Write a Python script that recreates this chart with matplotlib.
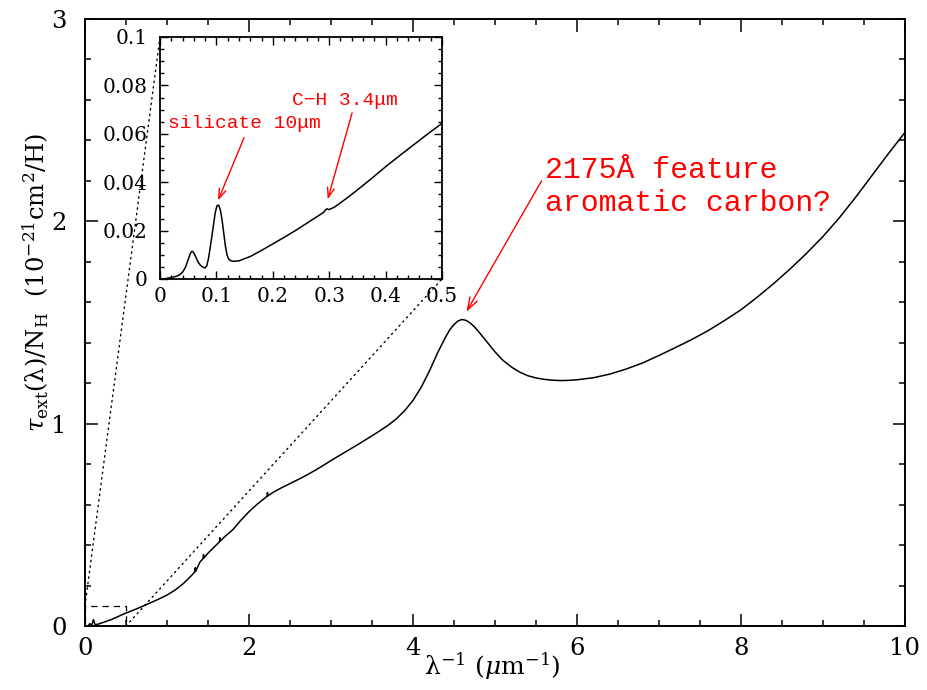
import matplotlib
matplotlib.use("Agg")
import matplotlib.pyplot as plt
from matplotlib.patches import Rectangle, ConnectionPatch
from matplotlib.ticker import MultipleLocator

plt.rcParams["font.family"] = ["DejaVu Serif"]
plt.rcParams["mathtext.fontset"] = "dejavuserif"

# extinction curve (x in 1/micron, y in 1e-21 cm^2/H)
inv_wave = [0.0, 0.01, 0.02, 0.03, 0.035, 0.04, 0.045, 0.05, 0.054, 0.057,
            0.06, 0.064, 0.068, 0.072, 0.076, 0.08, 0.083, 0.086, 0.09, 0.094,
            0.098, 0.101, 0.104, 0.107, 0.11, 0.113, 0.116, 0.119, 0.122, 0.126,
            0.13, 0.14, 0.16, 0.18, 0.2, 0.22, 0.24, 0.26, 0.28, 0.29,
            0.293, 0.296, 0.299, 0.302, 0.31, 0.33, 0.35, 0.375, 0.4, 0.425,
            0.45, 0.475, 0.5, 0.6, 0.7, 0.8, 0.9, 1.0, 1.1, 1.2,
            1.3, 1.34, 1.345, 1.35, 1.4, 1.44, 1.445, 1.45, 1.5, 1.6,
            1.64, 1.645, 1.65, 1.7, 1.8, 1.9, 2.0, 2.1, 2.2, 2.22,
            2.225, 2.23, 2.3, 2.4, 2.5, 2.6, 2.7, 2.8, 2.9, 3.0, 3.1,
            3.2, 3.3, 3.4, 3.5, 3.6, 3.7, 3.8, 3.9, 4.0, 4.1,
            4.2, 4.3, 4.4, 4.45, 4.5, 4.55, 4.6, 4.65, 4.7, 4.75,
            4.8, 4.85, 4.9, 4.95, 5.0, 5.05, 5.1, 5.2, 5.3, 5.4,
            5.5, 5.6, 5.7, 5.8, 5.9, 6.0, 6.2, 6.4, 6.6, 6.8,
            7.0, 7.2, 7.4, 7.6, 7.8, 8.0, 8.2, 8.4, 8.6, 8.8,
            9.0, 9.2, 9.4, 9.6, 9.8, 10.0]
tau = [0.0, 0.0002, 0.0006, 0.0012, 0.0018, 0.0028, 0.0048, 0.008, 0.0107, 0.0115,
       0.0108, 0.0088, 0.0068, 0.0056, 0.0049, 0.0046, 0.0055, 0.0085, 0.0145, 0.021,
       0.0275, 0.0303, 0.0305, 0.0285, 0.0245, 0.019, 0.0135, 0.0098, 0.0082, 0.0075,
       0.0073, 0.0075, 0.0093, 0.0118, 0.0145, 0.0172, 0.02, 0.023, 0.026, 0.0275,
       0.0284, 0.029, 0.0287, 0.0289, 0.0298, 0.0332, 0.0368, 0.0415, 0.0464, 0.051,
       0.0555, 0.06, 0.0643, 0.08, 0.097, 0.115, 0.133, 0.153, 0.178, 0.21,
       0.25, 0.268, 0.288, 0.27, 0.315, 0.333, 0.353, 0.336, 0.36, 0.40,
       0.416, 0.436, 0.42, 0.44, 0.475, 0.522, 0.565, 0.602, 0.635, 0.641,
       0.66, 0.643, 0.662, 0.684, 0.704, 0.724, 0.745, 0.768, 0.792, 0.818, 0.842,
       0.866, 0.89, 0.915, 0.94, 0.966, 0.993, 1.025, 1.065, 1.115, 1.18,
       1.26, 1.35, 1.43, 1.465, 1.49, 1.508, 1.515, 1.51, 1.497, 1.478,
       1.455, 1.43, 1.405, 1.38, 1.355, 1.333, 1.312, 1.28, 1.255, 1.237,
       1.226, 1.219, 1.215, 1.213, 1.214, 1.217, 1.227, 1.245, 1.27, 1.3,
       1.337, 1.376, 1.416, 1.46, 1.51, 1.563, 1.626, 1.693, 1.765, 1.842,
       1.925, 2.018, 2.12, 2.228, 2.336, 2.44]

main_xticks = [0, 2, 4, 6, 8, 10]
main_yticks = [0, 1, 2, 3]
inset_xticks = [0, 0.1, 0.2, 0.3, 0.4, 0.5]
inset_xlabels = ["0", "0.1", "0.2", "0.3", "0.4", "0.5"]
inset_yticks = [0, 0.02, 0.04, 0.06, 0.08, 0.1]
inset_ylabels = ["0", "0.02", "0.04", "0.06", "0.08", "0.1"]

fig = plt.figure(figsize=(9.28, 6.9), dpi=100)
W, H = 928, 690

# main panel
ax = fig.add_axes([85 / W, 1 - 626 / H, 820 / W, 607 / H])
ax.plot(inv_wave, tau, color="black", lw=1.1)
ax.set_xlim(0, 10)
ax.set_ylim(0, 3)
ax.set_xticks(main_xticks)
ax.set_xticklabels([str(t) for t in main_xticks])
ax.set_yticks(main_yticks)
ax.set_yticklabels([str(t) for t in main_yticks])
ax.xaxis.set_minor_locator(MultipleLocator(0.5))
ax.yaxis.set_minor_locator(MultipleLocator(0.2))
ax.tick_params(which="both", direction="in", top=True, right=True, width=1.1)
ax.tick_params(which="major", length=9, labelsize=17.5)
ax.tick_params(which="minor", length=4.5)
ax.tick_params(axis="x", which="major", pad=8)
ax.tick_params(axis="y", which="major", pad=13)
for sp in ax.spines.values():
    sp.set_linewidth(1.4)

# zoom box
ax.add_patch(Rectangle((0, 0), 0.5, 0.1, fill=False, ls=(0, (5, 4)), lw=0.9, color="black"))

fig.text(492 / W, 1 - 675 / H, "λ$^{-1}$ ($\\mu$m$^{-1}$)", ha="center",
         va="baseline", fontsize=18)
fig.text(36 / W, 1 - 282 / H,
         "$\\tau_{\\rm ext}$(λ)/N$_{\\rm H}$  (10$^{-21}$cm$^2$/H)",
         rotation=90, ha="center", va="center", fontsize=17.5)

ax.annotate("", xy=(4.634, 1.541), xytext=(5.585, 2.212),
            arrowprops=dict(arrowstyle="->,head_length=0.9,head_width=0.3", color="red", lw=1))
ax.text(5.61, 2.212, "2175Å feature", color="red", fontsize=21.5,
        family="Liberation Mono", va="baseline")
ax.text(5.61, 2.05, "aromatic carbon?", color="red", fontsize=21.5,
        family="Liberation Mono", va="baseline")

# inset
ins = fig.add_axes([160 / W, 1 - 279 / H, 282 / W, 242 / H])
ins.plot(inv_wave, tau, color="black", lw=1.1)
ins.set_xlim(0, 0.5)
ins.set_ylim(0, 0.1)
ins.set_xticks(inset_xticks)
ins.set_xticklabels(inset_xlabels)
ins.set_yticks(inset_yticks)
ins.set_yticklabels(inset_ylabels)
ins.xaxis.set_minor_locator(MultipleLocator(0.02))
ins.yaxis.set_minor_locator(MultipleLocator(0.005))
ins.tick_params(which="both", direction="in", top=True, right=True, width=1)
ins.tick_params(which="major", length=6, labelsize=14.5)
ins.tick_params(which="minor", length=3)
ins.tick_params(axis="x", which="major", pad=6)
ins.tick_params(axis="y", which="major", pad=9)
for sp in ins.spines.values():
    sp.set_linewidth(1.3)

ins.annotate("", xy=(0.101, 0.0314), xytext=(0.151, 0.0595),
             arrowprops=dict(arrowstyle="->,head_length=0.7,head_width=0.25", color="red", lw=1))
ins.text(0.014, 0.0624, "silicate 10μm", color="red", fontsize=14,
         family="Liberation Mono", va="baseline")
ins.annotate("", xy=(0.296, 0.0318), xytext=(0.342, 0.0698),
             arrowprops=dict(arrowstyle="->,head_length=0.7,head_width=0.25", color="red", lw=1))
ins.text(0.234, 0.0719, "C−H 3.4μm", color="red", fontsize=14,
         family="Liberation Mono", va="baseline")

# dotted guide lines from the zoom box to the inset corners
for xa, ya, xb, yb in [(0, 0.1, 0, 1), (0.5, 0, 1, 0)]:
    con = ConnectionPatch(xyA=(xa, ya), coordsA=ax.transData,
                          xyB=(xb, yb), coordsB=ins.transAxes,
                          ls=(0, (1, 3)), lw=1, color="black")
    fig.add_artist(con)

fig.savefig("out.png", dpi=100)
